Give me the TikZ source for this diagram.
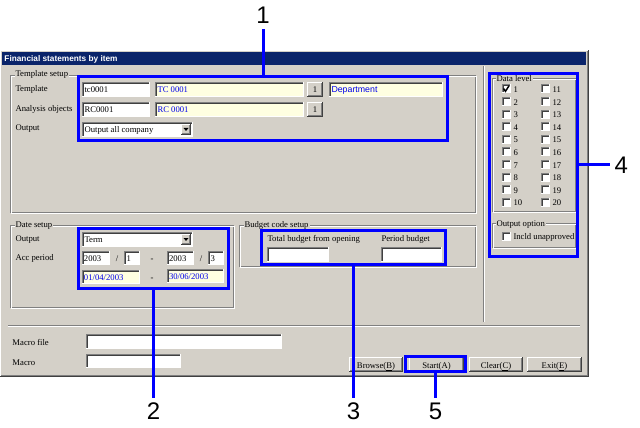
\documentclass[tikz,border=0pt]{standalone}
\usepackage{fontspec}
\setmainfont{Liberation Serif}
\newfontfamily\uisans{Liberation Sans}
\usetikzlibrary{fit}
\definecolor{winbg}{RGB}{212,208,200}
\definecolor{titlebar}{RGB}{10,36,106}
\definecolor{fieldyel}{RGB}{255,255,225}
\definecolor{edgedark}{RGB}{128,128,128}
\definecolor{edgeblack}{RGB}{64,64,64}
\definecolor{hlblue}{RGB}{0,0,255}
\definecolor{txtblue}{RGB}{0,0,235}
\tikzset{
  ui/.style={font=\fontsize{6.5}{7}\selectfont, inner sep=0pt, anchor=base west, text=black},
  uiblue/.style={ui, text=txtblue},
  uimid/.style={ui, anchor=base},
  hl/.style={draw=hlblue, line width=2.25pt, inner sep=0pt},
  conn/.style={draw=hlblue, line width=2.25pt},
  callout/.style={font=\uisans\fontsize{18}{18}\selectfont, inner sep=0pt, outer sep=3.4pt},
}
\newcommand{\uiField}[5]{%
  \fill[#5] (#1,#2) rectangle (#3,#4);
  \draw[edgedark] (#1+0.5,#4) -- (#1+0.5,#2+0.5) -- (#3,#2+0.5);
  \draw[edgeblack] (#1+1.5,#4-1) -- (#1+1.5,#2+1.5) -- (#3-1,#2+1.5);
  \draw[white] (#1,#4-0.5) -- (#3-0.5,#4-0.5) -- (#3-0.5,#2);
}
\newcommand{\uiBtn}[4]{%
  \fill[winbg] (#1,#2) rectangle (#3,#4);
  \draw[white] (#1+0.5,#4-1) -- (#1+0.5,#2+0.5) -- (#3-1,#2+0.5);
  \draw[edgeblack] (#1,#4-0.5) -- (#3-0.5,#4-0.5) -- (#3-0.5,#2);
  \draw[edgedark] (#1+1,#4-1.5) -- (#3-1.5,#4-1.5) -- (#3-1.5,#2+1);
}
\newcommand{\uiGroup}[4]{%
  \draw[edgedark] (#1+0.5,#2+0.5) rectangle (#3-1.5,#4-1.5);
  \draw[white] (#1+1.5,#2+1.5) rectangle (#3-0.5,#4-0.5);
}
\begin{document}
\begin{tikzpicture}[x=0.75pt,y=-0.75pt,line width=0.75pt]
\useasboundingbox (0,0) rectangle (640,428);
\fill[white] (0,0) rectangle (640,428);
% window
\fill[winbg] (0,50) rectangle (589,377);
\draw[white] (0.5,377) -- (0.5,50.5) -- (589,50.5);
\draw[edgeblack] (0,376.5) -- (588.5,376.5) -- (588.5,50);
\draw[edgedark] (1,375.5) -- (587.5,375.5) -- (587.5,51);
\fill[titlebar] (2,52) rectangle (586,65);
\node[font=\uisans\bfseries\fontsize{6.2}{7}\selectfont, text=white, anchor=base west, inner sep=0pt] (title) at (4,62) {Financial statements by item};
% template setup
\uiGroup{10}{75}{477}{214}
\node[ui, fill=winbg, inner xsep=0.75pt] (gTemplate) at (14,77) {Template setup};
\node[ui] (tTemplate) at (15,92) {Template};
\node[ui] (tAnalysis) at (15,112) {Analysis objects};
\node[ui] (tOutput) at (15,131) {Output};
\uiField{82}{82}{150}{97}{white}
\node[ui] (vtc) at (84,93) {tc0001};
\uiField{155}{82}{304}{97}{fieldyel}
\node[uiblue] (vTC) at (157,93) {TC 0001};
\uiBtn{307}{82}{323}{97}
\node[uimid] (vb1) at (315,93) {1};
\uiField{329}{82}{443}{97}{fieldyel}
\node[uiblue, font=\uisans\fontsize{6.6}{7}\selectfont] (vDept) at (331,93) {Department};
\uiField{82}{102}{150}{117}{white}
\node[ui] (vrc) at (84,113) {RC0001};
\uiField{155}{102}{304}{117}{fieldyel}
\node[uiblue] (vRC) at (157,113) {RC 0001};
\uiBtn{307}{102}{323}{117}
\node[uimid] (vb2) at (315,113) {1};
\uiField{82}{122}{193}{137}{white}
\node[ui] (vOut) at (84,133) {Output all company};
\uiBtn{181}{124}{191}{135}
\fill (183.5,128) -- (188.5,128) -- (186,131) -- cycle;
% right panel divider
\draw[edgedark] (483.5,66) -- (483.5,322);
\draw[white] (484.5,66) -- (484.5,322);
% data level
\uiGroup{492}{78}{577}{213}
\node[ui, fill=winbg, inner xsep=0.75pt] (gData) at (495,81.5) {Data level};
\foreach \i in {1,...,10} {
  \pgfmathsetmacro\yy{89+(\i-1)*12.6}
  \uiField{501.5}{\yy-4.5}{510.5}{\yy+4.5}{white}
  \node[ui] (dl\i) at (513,\yy+3.5) {\i};
  \uiField{540.5}{\yy-4.5}{549.5}{\yy+4.5}{white}
  \pgfmathtruncatemacro\jj{\i+10}
  \node[ui] (dl\jj) at (552,\yy+3.5) {\jj};
}
\draw[line width=1.1pt] (503.5,88.5) -- (505.5,91.3) -- (509,85.8);
\uiGroup{492}{223}{577}{249}
\node[ui, fill=winbg, inner xsep=0.75pt] (gOpt) at (495,226.5) {Output option};
\uiField{501.5}{231.5}{510.5}{240.5}{white}
\node[ui] (tIncld) at (513,239.5) {Incld unapproved};
% date setup
\uiGroup{10}{225}{235}{309}
\node[ui, fill=winbg, inner xsep=0.75pt] (gDate) at (14,228) {Date setup};
\node[ui] (tDOut) at (15,241) {Output};
\node[ui] (tAcc) at (15,261) {Acc period};
\uiField{82}{232}{193}{247}{white}
\node[ui] (vTerm) at (84,243) {Term};
\uiBtn{181}{234}{191}{245}
\fill (183.5,238) -- (188.5,238) -- (186,241) -- cycle;
\uiField{82}{251}{110}{265}{white}
\node[ui] (vy1) at (83.5,261.5) {2003};
\node[uimid] (s1) at (117,261.5) {/};
\uiField{124}{251}{140}{265}{white}
\node[ui] (vm1) at (126,261.5) {1};
\node[uimid] (d1) at (152,261.5) {-};
\uiField{167}{251}{194}{265}{white}
\node[ui] (vy2) at (168.5,261.5) {2003};
\node[uimid] (s2) at (201,261.5) {/};
\uiField{208}{251}{224}{265}{white}
\node[ui] (vm2) at (210,261.5) {3};
\uiField{82}{270}{140}{284}{fieldyel}
\node[uiblue] (vd1) at (83.5,280.5) {01/04/2003};
\node[uimid] (d2) at (152,280.5) {-};
\uiField{167}{269}{224}{283}{fieldyel}
\node[uiblue] (vd2) at (168.5,279.5) {30/06/2003};
% budget code setup
\uiGroup{239}{225}{477}{268}
\node[ui, fill=winbg, inner xsep=0.75pt] (gBudget) at (243,228) {Budget code setup};
\node[ui] (tTotal) at (267,241) {Total budget from opening};
\node[ui] (tPeriod) at (381,241) {Period budget};
\uiField{267}{247}{329}{262}{white}
\uiField{381}{247}{442}{262}{white}
% separator and macro
\draw[edgedark] (8,325.5) -- (580,325.5);
\draw[white] (8,326.5) -- (580,326.5);
\node[ui] (tMacroFile) at (12,345) {Macro file};
\node[ui] (tMacro) at (12,365) {Macro};
\uiField{86}{334}{282}{349}{white}
\uiField{86}{354}{181}{368}{white}
% buttons
\uiBtn{349}{357}{403}{372}
\node[uimid] (bBrowse) at (376,368) {Browse(\underline{B})};
\uiBtn{409}{357}{464}{372}
\node[uimid] (bStart) at (436.5,368) {Start(\underline{A})};
\uiBtn{469}{357}{523}{372}
\node[uimid] (bClear) at (496,368) {Clear(\underline{C})};
\uiBtn{527}{357}{582}{372}
\node[uimid] (bExit) at (554.5,368) {Exit(\underline{E})};
% highlights
\node[hl, fit={(78.5,76.5) (447.5,140.5)}] (hl1) {};
\node[hl, fit={(78.5,228.5) (228.5,288.5)}] (hl2) {};
\node[hl, fit={(261.5,230.5) (445.5,264.5)}] (hl3) {};
\node[hl, fit={(489,73.5) (577.5,256.5)}] (hl4) {};
\node[hl, fit={(405.5,356.5) (465.5,371.5)}] (hl5) {};
% callouts
\node[callout, anchor=base] (c1) at (263,24) {1};
\node[callout, anchor=base] (c2) at (153.5,419) {2};
\node[callout, anchor=base] (c3) at (353.5,419) {3};
\node[callout, anchor=west] (c4) at (610,165) {4};
\node[callout, anchor=base] (c5) at (435.5,419) {5};
\draw[conn] (hl1.north) -- (c1.south);
\draw[conn] (hl2.south) -- (c2.north);
\draw[conn] (hl3.south) -- (c3.north);
\draw[conn] (hl4.east) -- (c4.west);
\draw[conn] (hl5.south) -- (c5.north);
\end{tikzpicture}
\end{document}
